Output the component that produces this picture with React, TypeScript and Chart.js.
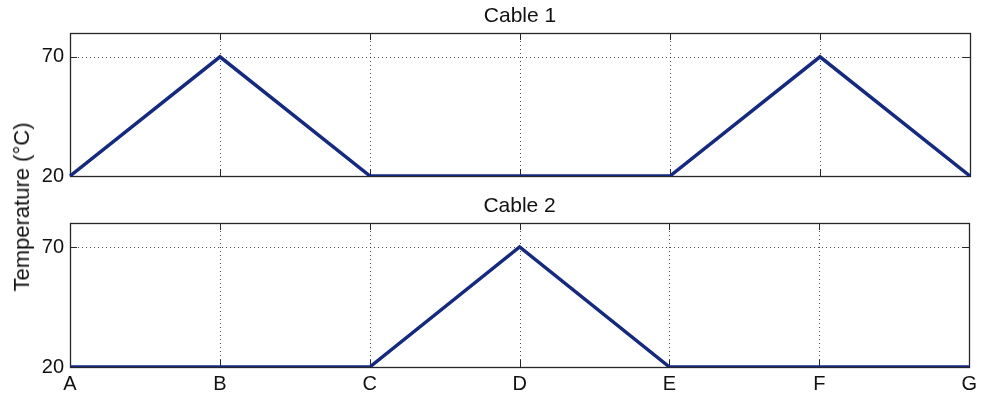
import React, { useEffect, useRef } from "react";
import { Chart, registerables } from "chart.js";

Chart.register(...registerables);

const categories = ["A", "B", "C", "D", "E", "F", "G"];
const cable1 = [20, 70, 20, 20, 20, 70, 20];
const cable2 = [20, 20, 20, 70, 20, 20, 20];
const yTicks = [20, 70];
const titles = ["Cable 1", "Cable 2"];
const yLabel = "Temperature (°C)";
const Y_MIN = 20;
const Y_MAX = 80;

const FONT = "'Liberation Sans', Arial, Helvetica, sans-serif";
const LINE_COLOR = "#15297f";
const TEXT_COLOR = "#111111";

const framePlugin = {
  id: "matlabFrame",
  beforeDatasetsDraw(chart: any) {
    const { ctx, chartArea, scales } = chart;
    const { left, right, top, bottom } = chartArea;
    const xs = scales.x;
    const ys = scales.y;
    const r = (v: number) => Math.round(v) + 0.5;
    ctx.save();
    // dotted grid
    ctx.strokeStyle = "rgba(0,0,0,0.7)";
    ctx.lineWidth = 1;
    ctx.setLineDash([1, 3]);
    xs.ticks.forEach((_t: any, i: number) => {
      const px = xs.getPixelForTick(i);
      if (px > left + 2 && px < right - 2) {
        ctx.beginPath();
        ctx.moveTo(r(px), top);
        ctx.lineTo(r(px), bottom);
        ctx.stroke();
      }
    });
    ys.ticks.forEach((_t: any, i: number) => {
      const py = ys.getPixelForTick(i);
      if (py > top + 2 && py < bottom - 2) {
        ctx.beginPath();
        ctx.moveTo(left, r(py));
        ctx.lineTo(right, r(py));
        ctx.stroke();
      }
    });
    ctx.setLineDash([]);
    // inward ticks
    ctx.strokeStyle = "#262626";
    ctx.lineWidth = 1;
    const tl = 7;
    xs.ticks.forEach((_t: any, i: number) => {
      const px = r(xs.getPixelForTick(i));
      ctx.beginPath();
      ctx.moveTo(px, bottom);
      ctx.lineTo(px, bottom - tl);
      ctx.moveTo(px, top);
      ctx.lineTo(px, top + tl);
      ctx.stroke();
    });
    ys.ticks.forEach((_t: any, i: number) => {
      const py = r(ys.getPixelForTick(i));
      ctx.beginPath();
      ctx.moveTo(left, py);
      ctx.lineTo(left + tl, py);
      ctx.moveTo(right, py);
      ctx.lineTo(right - tl, py);
      ctx.stroke();
    });
    // frame
    ctx.lineWidth = 1.3;
    ctx.strokeRect(r(left), r(top), Math.round(right - left), Math.round(bottom - top));
    ctx.restore();
  },
  afterDraw(chart: any) {
    const { ctx, chartArea } = chart;
    const title = chart.options.plugins.panelTitle?.text;
    if (!title) return;
    ctx.save();
    ctx.fillStyle = TEXT_COLOR;
    ctx.font = `21px ${FONT}`;
    ctx.textAlign = "center";
    ctx.textBaseline = "middle";
    ctx.fillText(title, (chartArea.left + chartArea.right) / 2, chartArea.top - 17);
    ctx.restore();
  },
};

function makeConfig(values: number[], title: string, showX: boolean, height: number, areaBottom: number) {
  return {
    type: "line" as const,
    data: {
      labels: categories,
      datasets: [
        {
          data: values,
          borderColor: LINE_COLOR,
          backgroundColor: LINE_COLOR,
          borderWidth: 3.5,
          pointRadius: 0,
          tension: 0,
          fill: false,
          borderJoinStyle: "miter" as const,
        },
      ],
    },
    options: {
      animation: false as const,
      responsive: false,
      devicePixelRatio: 1,
      layout: { padding: { left: 0, right: 12, top: 33, bottom: 0 } },
      plugins: {
        legend: { display: false },
        tooltip: { enabled: false },
        title: { display: false },
        panelTitle: { text: title },
      },
      scales: {
        x: {
          type: "category" as const,
          offset: false,
          grid: { display: false, drawTicks: false },
          border: { display: false },
          ticks: {
            display: showX,
            color: TEXT_COLOR,
            font: { family: FONT, size: 20 },
            padding: 5,
            maxRotation: 0,
            autoSkip: false,
          },
          afterFit: (scale: any) => {
            scale.height = height - areaBottom;
          },
        },
        y: {
          min: Y_MIN,
          max: Y_MAX,
          grid: { display: false, drawTicks: false },
          border: { display: false },
          afterBuildTicks: (scale: any) => {
            scale.ticks = yTicks.map((v) => ({ value: v }));
          },
          ticks: {
            color: TEXT_COLOR,
            font: { family: FONT, size: 20 },
            padding: 6,
          },
          afterFit: (scale: any) => {
            scale.width = 70;
          },
        },
      },
    },
    plugins: [framePlugin],
  };
}

function Panel({ values, title, showX, top, height, areaBottom }: { values: number[]; title: string; showX: boolean; top: number; height: number; areaBottom: number }) {
  const ref = useRef<HTMLCanvasElement | null>(null);
  useEffect(() => {
    if (!ref.current) return;
    const chart = new Chart(ref.current, makeConfig(values, title, showX, height, areaBottom) as any);
    return () => chart.destroy();
  }, [values, title, showX, height, areaBottom]);
  return (
    <div style={{ position: "absolute", left: 0, top, width: 982, height }}>
      <canvas ref={ref} width={982} height={height} style={{ display: "block" }} />
    </div>
  );
}

export default function App() {
  return (
    <div
      style={{
        position: "absolute",
        left: 0,
        top: 0,
        width: 982,
        height: 398,
        background: "#ffffff",
        overflow: "hidden",
      }}
    >
      <Panel values={cable1} title={titles[0]} showX={false} top={0} height={194} areaBottom={176} />
      <Panel values={cable2} title={titles[1]} showX={true} top={190} height={208} areaBottom={177} />
      <div
        style={{
          position: "absolute",
          left: 22,
          top: 207,
          transform: "translate(-50%, -50%) rotate(-90deg)",
          whiteSpace: "nowrap",
          fontFamily: FONT,
          fontSize: 22,
          color: TEXT_COLOR,
          lineHeight: 1,
        }}
      >
        {yLabel}
      </div>
    </div>
  );
}
